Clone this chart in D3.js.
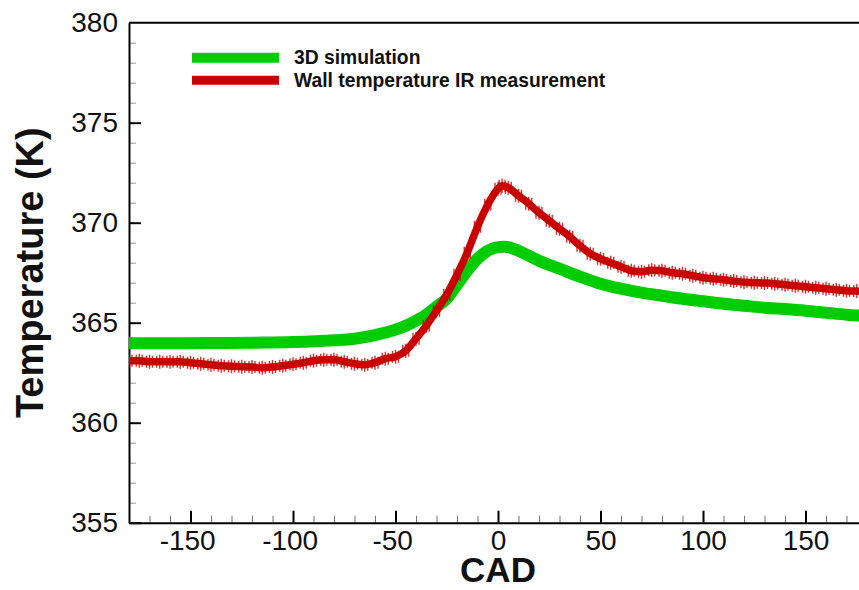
<!DOCTYPE html>
<html>
<head>
<meta charset="utf-8">
<script src="https://cdn.jsdelivr.net/npm/d3@7"></script>
<style>
  body { margin: 0; background: #fff; }
  svg { display: block; font-family: "Liberation Sans", Arial, sans-serif; }
</style>
</head>
<body>
<div id="chart"></div>
<script>
// data
var simCad = [-180, -160, -140, -120, -100, -80, -70, -60, -50, -45, -40, -35, -30, -25, -20, -15, -10, -5, 0, 3, 5, 10, 15, 20, 30, 40, 50, 60, 70, 80, 90, 100, 110, 120, 130, 140, 150, 160, 170, 180];
var simTemp = [363.97, 363.97, 363.98, 364.0, 364.03, 364.12, 364.2, 364.38, 364.65, 364.85, 365.1, 365.4, 365.8, 366.2, 366.9, 367.6, 368.2, 368.6, 368.78, 368.8, 368.78, 368.6, 368.35, 368.1, 367.7, 367.3, 366.95, 366.7, 366.5, 366.35, 366.2, 366.07, 365.95, 365.85, 365.75, 365.68, 365.6, 365.5, 365.4, 365.33];

var irCad = [-180, -175, -170, -165, -160, -155, -150, -145, -140, -135, -130, -125, -120, -115, -110, -105, -100, -95, -90, -85, -80, -75, -70, -65, -60, -55, -50, -45, -40, -35, -30, -25, -20, -15, -10, -5, 0, 2, 5, 10, 15, 20, 25, 30, 35, 40, 45, 50, 55, 60, 65, 70, 75, 80, 85, 90, 95, 100, 105, 110, 115, 120, 125, 130, 135, 140, 145, 150, 155, 160, 165, 170, 175, 180];
var irTemp = [363.1, 363.1, 363.05, 363.05, 363.05, 363.05, 363.0, 362.95, 362.9, 362.85, 362.82, 362.8, 362.78, 362.75, 362.78, 362.85, 362.92, 363.0, 363.1, 363.15, 363.15, 363.05, 362.95, 362.9, 363.0, 363.2, 363.3, 363.6, 364.2, 364.85, 365.6, 366.4, 367.4, 368.5, 369.8, 370.9, 371.7, 371.85, 371.75, 371.35, 370.95, 370.5, 370.1, 369.7, 369.3, 368.85, 368.45, 368.2, 368.0, 367.8, 367.6, 367.55, 367.62, 367.6, 367.5, 367.45, 367.35, 367.25, 367.2, 367.15, 367.08, 367.02, 367.0, 366.98, 366.95, 366.9, 366.85, 366.8, 366.75, 366.7, 366.65, 366.6, 366.58, 366.55];

var xMajor = [-150, -100, -50, 0, 50, 100, 150];
var yMajor = [355, 360, 365, 370, 375, 380];
var legendNames = ["3D simulation", "Wall temperature IR measurement"];

var width = 859, height = 590;
var green = "#00cc00", red = "#c80000";

var x = d3.scaleLinear().domain([-180, 180]).range([129, 867]);
var y = d3.scaleLinear().domain([355, 380]).range([522.7, 22.7]);

var svg = d3.select("#chart").append("svg")
    .attr("width", width)
    .attr("height", height);

svg.append("defs").append("clipPath").attr("id", "plot")
    .append("rect")
    .attr("x", 129).attr("y", 22.7)
    .attr("width", 738).attr("height", 500);

// minor ticks
var xMinor = d3.range(-180, 181, 10).filter(function (v) { return v % 50 !== 0; });
var yMinor = d3.range(355, 380.1, 1).filter(function (v) { return v % 5 !== 0; });

svg.append("g")
    .attr("transform", "translate(0," + y(355) + ")")
    .call(d3.axisBottom(x).tickValues(xMinor).tickSize(-7).tickFormat(""))
    .call(function (g) { g.select(".domain").remove(); })
    .selectAll("line").attr("stroke", "#777").attr("stroke-width", 1);

svg.append("g")
    .attr("transform", "translate(" + x(-180) + ",0)")
    .call(d3.axisLeft(y).tickValues(yMinor).tickSize(-7).tickFormat(""))
    .call(function (g) { g.select(".domain").remove(); })
    .selectAll("line").attr("stroke", "#999").attr("stroke-width", 1);

// major axes (plain hyphen for negatives, like the original)
var plain = function (d) { return String(d); };

var xAxis = svg.append("g")
    .attr("transform", "translate(0," + y(355) + ")")
    .call(d3.axisBottom(x).tickValues(xMajor).tickFormat(plain).tickSizeInner(-12).tickSizeOuter(0).tickPadding(7));

var yAxis = svg.append("g")
    .attr("transform", "translate(" + x(-180) + ",0)")
    .call(d3.axisLeft(y).tickValues(yMajor).tickFormat(plain).tickSizeInner(-12).tickSizeOuter(0).tickPadding(11));

[xAxis, yAxis].forEach(function (g) {
    g.select(".domain").attr("stroke", "#000").attr("stroke-width", 2);
    g.selectAll(".tick line").attr("stroke", "#000").attr("stroke-width", 2);
    g.selectAll(".tick text")
        .attr("fill", "#111")
        .style("font-size", "28px")
        .style("font-family", "'Liberation Sans', Arial, sans-serif");
});
xAxis.selectAll(".tick text").attr("dx", function (d) { return d < 0 ? "-0.12em" : 0; });
yAxis.select(".tick:last-of-type line").remove();

// top frame line
svg.append("line")
    .attr("x1", x(-180)).attr("x2", width)
    .attr("y1", y(380)).attr("y2", y(380))
    .attr("stroke", "#000").attr("stroke-width", 2);

// series
var simData = simCad.map(function (c, i) { return { cad: c, t: simTemp[i] }; });
var irData = irCad.map(function (c, i) { return { cad: c, t: irTemp[i] }; });

var line = d3.line()
    .x(function (d) { return x(d.cad); })
    .y(function (d) { return y(d.t); })
    .curve(d3.curveMonotoneX);

var plot = svg.append("g").attr("clip-path", "url(#plot)");

plot.append("path")
    .datum(simData)
    .attr("d", line)
    .attr("fill", "none")
    .attr("stroke", green)
    .attr("stroke-width", 12);

plot.append("path")
    .datum(irData)
    .attr("d", line)
    .attr("fill", "none")
    .attr("stroke", red)
    .attr("stroke-width", 7.5);

// "+" markers of the measurement
var marks = plot.selectAll(".mark")
    .data(irData)
    .enter()
    .append("g")
    .attr("class", "mark")
    .attr("transform", function (d) { return "translate(" + x(d.cad) + "," + y(d.t) + ")"; });

marks.append("path")
    .attr("d", "M0,-7V7M-4,0H4M-3,-6V6M3,-6V6")
    .attr("stroke", red)
    .attr("stroke-width", 1.4)
    .attr("opacity", 0.8);

// legend
var legend = svg.selectAll(".legend")
    .data(legendNames)
    .enter()
    .append("g")
    .attr("class", "legend")
    .attr("transform", function (d, i) { return "translate(192," + (57.7 + i * 22.5) + ")"; });

legend.append("line")
    .attr("x1", 0).attr("x2", 87)
    .attr("stroke", function (d, i) { return i === 0 ? green : red; })
    .attr("stroke-width", function (d, i) { return i === 0 ? 10 : 9; });

legend.append("text")
    .attr("x", 102)
    .attr("y", 6.5)
    .style("font-size", "19.3px")
    .style("font-weight", "bold")
    .attr("fill", "#111")
    .text(function (d) { return d; });

// axis titles
svg.append("text")
    .attr("x", 498)
    .attr("y", 582)
    .attr("text-anchor", "middle")
    .style("font-size", "35px")
    .style("font-weight", "bold")
    .attr("fill", "#111")
    .text("CAD");

svg.append("text")
    .attr("transform", "translate(43," + y(367.5) + ") rotate(-90)")
    .attr("text-anchor", "middle")
    .style("font-size", "38px")
    .style("font-weight", "bold")
    .attr("fill", "#111")
    .text("Temperature (K)");
</script>
</body>
</html>
